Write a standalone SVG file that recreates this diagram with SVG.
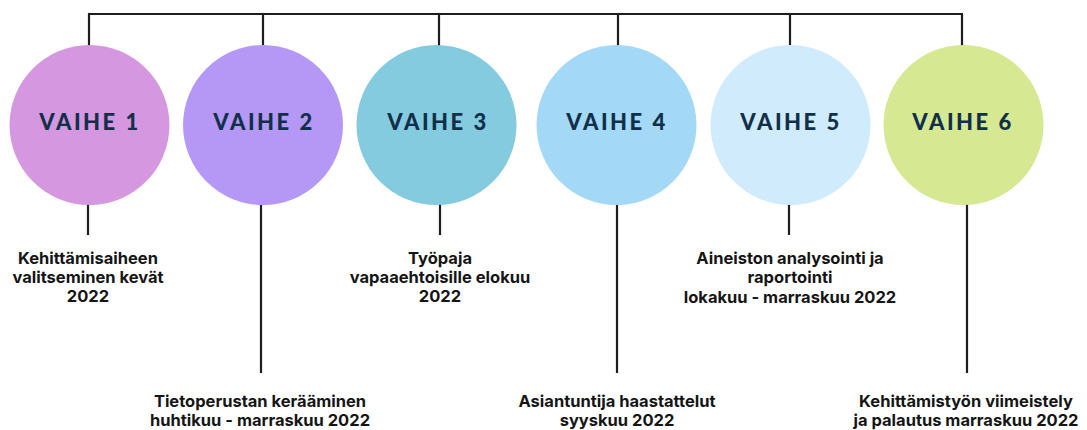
<svg xmlns="http://www.w3.org/2000/svg" width="1087" height="430" viewBox="0 0 1087 430">
<style>
.ln{stroke:#1e1e1e;stroke-width:2.2;fill:none}
.ph{font-family:"Lato","DejaVu Sans",sans-serif;font-weight:900;font-size:22px;letter-spacing:2.5px;fill:#10304a;text-anchor:middle}
.lb{font-family:"Inter","Liberation Sans",sans-serif;font-weight:700;font-size:16.5px;fill:#151515;text-anchor:middle}
</style>
<rect width="1087" height="430" fill="#ffffff"/>
<g id="connectors">
<path class="ln" d="M89,47 V14 H962 V47"/>
<path class="ln" d="M263,14 V47"/>
<path class="ln" d="M439,14 V47"/>
<path class="ln" d="M618,14 V47"/>
<path class="ln" d="M790,14 V47"/>
<path class="ln" d="M88,203 V235"/>
<path class="ln" d="M261,203 V373"/>
<path class="ln" d="M440,203 V235"/>
<path class="ln" d="M617,203 V373"/>
<path class="ln" d="M789,203 V235"/>
<path class="ln" d="M967,203 V373"/>
</g>
<g id="phase1">
<circle cx="89.5" cy="125" r="80" fill="#d597e0"/>
<text class="ph" x="90" y="130">VAIHE 1</text>
</g>
<g id="phase2">
<circle cx="263" cy="125" r="80" fill="#b598f5"/>
<text class="ph" x="264" y="130">VAIHE 2</text>
</g>
<g id="phase3">
<circle cx="436.5" cy="125" r="80" fill="#84cbe0"/>
<text class="ph" x="438" y="130">VAIHE 3</text>
</g>
<g id="phase4">
<circle cx="616.5" cy="125" r="80" fill="#a3d9f7"/>
<text class="ph" x="617" y="130">VAIHE 4</text>
</g>
<g id="phase5">
<circle cx="790.5" cy="125" r="80" fill="#d0ebfb"/>
<text class="ph" x="791" y="130">VAIHE 5</text>
</g>
<g id="phase6">
<circle cx="963.5" cy="125" r="80" fill="#d7e892"/>
<text class="ph" x="963" y="130">VAIHE 6</text>
</g>
<g id="label1">
<text class="lb" x="88" y="264">Kehittämisaiheen</text>
<text class="lb" x="88" y="283">valitseminen kevät</text>
<text class="lb" x="88" y="302">2022</text>
</g>
<g id="label2">
<text class="lb" x="260" y="407">Tietoperustan kerääminen</text>
<text class="lb" x="260" y="426">huhtikuu - marraskuu 2022</text>
</g>
<g id="label3">
<text class="lb" x="440" y="264">Työpaja</text>
<text class="lb" x="440" y="283">vapaaehtoisille elokuu</text>
<text class="lb" x="440" y="302">2022</text>
</g>
<g id="label4">
<text class="lb" x="617" y="407">Asiantuntija haastattelut</text>
<text class="lb" x="617" y="426">syyskuu 2022</text>
</g>
<g id="label5">
<text class="lb" x="790" y="264">Aineiston analysointi ja</text>
<text class="lb" x="790" y="283">raportointi</text>
<text class="lb" x="790" y="303">lokakuu - marraskuu 2022</text>
</g>
<g id="label6">
<text class="lb" x="966" y="407">Kehittämistyön viimeistely</text>
<text class="lb" x="966" y="426">ja palautus marraskuu 2022</text>
</g>
</svg>
